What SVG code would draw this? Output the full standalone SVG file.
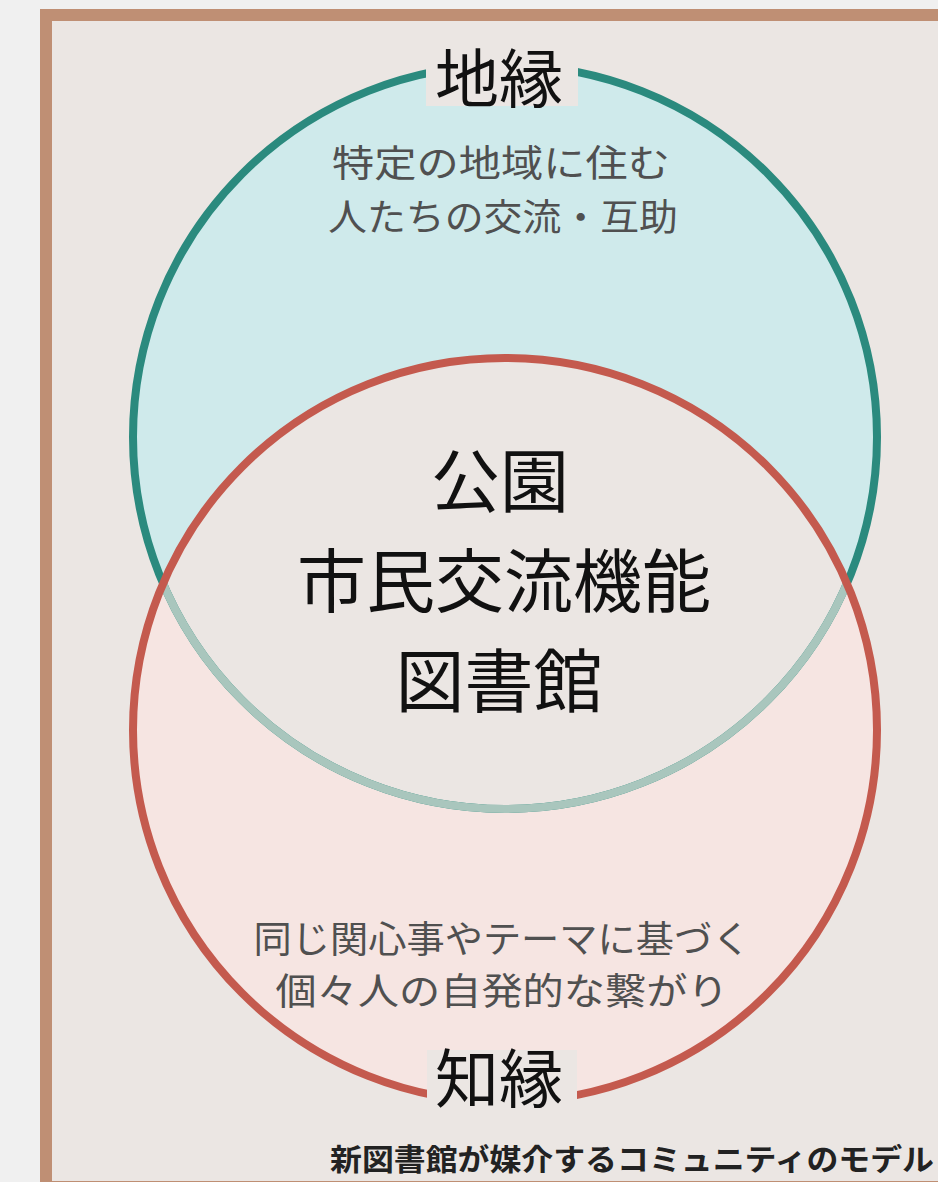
<svg xmlns="http://www.w3.org/2000/svg" width="938" height="1182" viewBox="0 0 938 1182">
<style>
.jp{font-family:"Noto Sans CJK JP","Noto Sans",sans-serif;text-anchor:middle}
.title{font-size:64px;fill:#111}
.main{font-size:69px;fill:#111}
.desc{font-size:37px;fill:#505050}
.note{font-size:30px;font-weight:bold;fill:#222}
</style>
<defs>
<clipPath id="redClip"><circle cx="505" cy="730" r="372"/></clipPath>
</defs>
<rect x="0" y="0" width="938" height="1182" fill="#f0f0f0"/>
<rect id="frame" x="46" y="15" width="912" height="1172" fill="#ebe6e3" stroke="#bf8f74" stroke-width="12"/>
<g id="circles">
<g id="chien">
<circle cx="505" cy="437" r="372" fill="#cfeaeb"/>
</g>
<g id="chien2">
<circle cx="505" cy="730" r="372" fill="#f6e5e2"/>
</g>
<circle cx="505" cy="437" r="372" fill="#ebe6e3" clip-path="url(#redClip)"/>
<circle cx="505" cy="437" r="372" fill="none" stroke="#2b8a7e" stroke-width="8"/>
<circle cx="505" cy="437" r="372" fill="none" stroke="#a9c6bd" stroke-width="8" clip-path="url(#redClip)"/>
<circle cx="505" cy="730" r="372" fill="none" stroke="#c45a4e" stroke-width="8"/>
</g>
<g id="label-chien">
<rect x="426" y="54" width="152" height="52" fill="#ebe6e3"/>
<text class="jp title" x="499" y="102">地縁</text>
<text class="jp desc" x="501" y="177" textLength="338" lengthAdjust="spacingAndGlyphs">特定の地域に住む</text>
<text class="jp desc" x="503" y="231" textLength="350" lengthAdjust="spacingAndGlyphs">人たちの交流・互助</text>
</g>
<g id="center">
<text class="jp main" x="500" y="507">公園</text>
<text class="jp main" x="504" y="607">市民交流機能</text>
<text class="jp main" x="499" y="707">図書館</text>
</g>
<g id="label-chien2">
<text class="jp desc" x="502" y="953" textLength="497" lengthAdjust="spacingAndGlyphs">同じ関心事やテーマに基づく</text>
<text class="jp desc" x="502" y="1005" textLength="453" lengthAdjust="spacingAndGlyphs">個々人の自発的な繋がり</text>
<rect x="427" y="1050" width="150" height="56" fill="#ebe6e3"/>
<text class="jp title" x="499" y="1102">知縁</text>
</g>
<text id="caption" class="jp note" x="632" y="1170" textLength="604" lengthAdjust="spacingAndGlyphs">新図書館が媒介するコミュニティのモデル</text>
</svg>
